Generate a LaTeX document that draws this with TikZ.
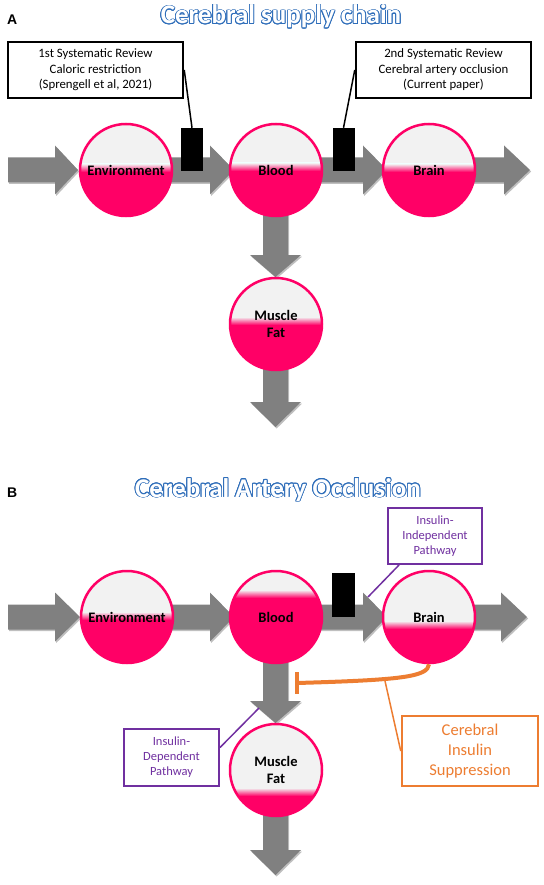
\documentclass[tikz,border=0pt]{standalone}
\usepackage{fontspec}
\setmainfont{Carlito}
\newfontfamily\labelfont{Liberation Sans}
\usepackage{contour}
\contourlength{0.85pt}
\usetikzlibrary{shadows}
\definecolor{pinkc}{HTML}{FF0066}
\definecolor{grayfill}{HTML}{F2F2F2}
\definecolor{arrowgray}{HTML}{808080}
\definecolor{purplec}{HTML}{7030A0}
\definecolor{orangec}{HTML}{ED7D31}
\definecolor{titleblue}{HTML}{2F6EBA}
\tikzset{
  flowshadow/.style={drop shadow={shadow xshift=1.2pt, shadow yshift=-1.5pt, opacity=0.25, fill=black}},
  pool/.style={circle, minimum size=92pt, inner sep=0pt, draw=pinkc, line width=2.5pt,
    font=\fontsize{14.5pt}{17.5pt}\selectfont\bfseries, align=center,
    path picture={
      \fill[grayfill] (path picture bounding box.south west) rectangle (path picture bounding box.north east);
      \fill[pinkc] ([yshift={-(#1pt)-3pt}]path picture bounding box.west) rectangle (path picture bounding box.south east);
      \shade[top color=grayfill, bottom color=pinkc] ([yshift={-(#1pt)+5pt}]path picture bounding box.west) rectangle ([yshift={-(#1pt)-3pt}]path picture bounding box.east);
    }},
  blockbar/.style={fill=black, draw=none, minimum width=22pt, minimum height=43pt, inner sep=0pt},
  revbox/.style={draw=black, line width=2.5pt, fill=white, minimum width=175pt, minimum height=56pt, inner sep=0pt,
    align=center, font=\fontsize{12.8pt}{15.5pt}\selectfont},
  pathbox/.style={draw=purplec, line width=2pt, fill=white, text=purplec, minimum width=94pt, minimum height=56pt, inner sep=0pt,
    align=center, font=\fontsize{12.5pt}{15pt}\selectfont},
  supbox/.style={draw=orangec, line width=2.5pt, fill=white, text=orangec, minimum width=136pt, minimum height=70pt, inner sep=0pt,
    align=center, font=\fontsize{16.5pt}{20pt}\selectfont},
  leader/.style={draw=black, line width=1.5pt},
  paneltitle/.style={anchor=base, font=\fontsize{27pt}{30pt}\selectfont\bfseries, inner sep=0pt},
  panellabel/.style={anchor=base west, font=\labelfont\bfseries\fontsize{14pt}{14pt}\selectfont, inner sep=0pt},
}
\newcommand\blockarrowH[4]{% start, head base, tip, y
  \fill[arrowgray, flowshadow] (#1,{#4-12.5}) -- (#2,{#4-12.5}) -- (#2,{#4-24.5}) -- (#3,#4) -- (#2,{#4+24.5}) -- (#2,{#4+12.5}) -- (#1,{#4+12.5}) -- cycle;}
\newcommand\blockarrowV[4]{% start, head base, tip, x
  \fill[arrowgray, flowshadow] ({#4-12.5},#1) -- ({#4-12.5},#2) -- ({#4-25.5},#2) -- (#4,#3) -- ({#4+25.5},#2) -- ({#4+12.5},#2) -- ({#4+12.5},#1) -- cycle;}
\begin{document}
\begin{tikzpicture}[x=1pt, y=-1pt]
\fill[white] (0,0) rectangle (543,885);
\useasboundingbox (0,0) rectangle (543,885);

% ---------------- Panel A ----------------
\node[panellabel] (labA) at (7,25) {A};
\node[paneltitle] (titleA) at (281,24) {\contour{titleblue}{\textcolor{white}{Cerebral supply chain}}};

\blockarrowH{8}{55}{78}{170}
\blockarrowH{160}{210}{234}{170}
\blockarrowH{315}{363}{387}{170}
\blockarrowH{470}{504}{530}{170}
\blockarrowV{205}{255}{277}{275.5}
\blockarrowV{360}{402}{427}{275.5}

\node[pool=-1] (envA) at (126,170) {Environment};
\node[pool=-2] (bloodA) at (276,170) {Blood};
\node[pool=-1] (brainA) at (429,170) {Brain};
\node[pool=-2] (muscleA) at (276,324) {Muscle\\Fat};

\node[blockbar] (barA1) at (192,149.5) {};
\node[blockbar] (barA2) at (343.5,149.5) {};

\node[revbox] (revA1) at (95.5,70) {1st Systematic Review\\Caloric restriction\\(Sprengell et al, 2021)};
\node[revbox] (revA2) at (443.5,70) {2nd Systematic Review\\Cerebral artery occlusion\\(Current paper)};
\draw[leader] (revA1.east) -- (barA1.north);
\draw[leader] (revA2.west) -- (barA2.north);

% ---------------- Panel B ----------------
\node[panellabel] (labB) at (7,497) {B};
\node[paneltitle] (titleB) at (278,497) {\contour{titleblue}{\textcolor{white}{Cerebral Artery Occlusion}}};

\blockarrowH{8}{55}{80}{617}
\blockarrowH{160}{210}{234}{617}
\blockarrowH{315}{363}{387}{617}
\blockarrowH{470}{501}{527}{617}
\blockarrowV{655}{701}{723}{275.5}
\blockarrowV{810}{850}{875}{275.5}

\node[pool=0] (envB) at (127,617) {Environment};
\node[pool=-22] (bloodB) at (276,617) {Blood};
\node[pool=9] (brainB) at (429,617) {Brain};
\node[pool=23] (muscleB) at (276,770) {Muscle\\Fat};

\node[blockbar, minimum height=44pt, minimum width=23pt] (barB) at (343.5,595) {};

\node[pathbox] (indep) at (435,536) {Insulin-\\Independent\\Pathway};
\coordinate (indepTip) at (368,597);
\draw[purplec, line width=1.5pt] ([xshift=12pt]indep.south west) -- (indepTip);

\node[pathbox, minimum width=95pt, minimum height=57pt] (dep) at (171.5,757.5) {Insulin-\\Dependent\\Pathway};
\coordinate (depTip) at (259,708);
\draw[purplec, line width=1.5pt] ([yshift=10pt]dep.east) -- (depTip);

\coordinate (inhib) at (297,683);
\draw[orangec, line width=4pt] (brainB.south) .. controls (428,677) and (400,680) .. (inhib);
\draw[orangec, line width=4pt] ([yshift=11pt]inhib) -- ([yshift=-11pt]inhib);

\node[supbox] (supp) at (470,751) {Cerebral\\Insulin\\Suppression};
\coordinate (suppTouch) at (385,681);
\draw[orangec, line width=1.5pt] (supp.west) -- (suppTouch);
\end{tikzpicture}
\end{document}
